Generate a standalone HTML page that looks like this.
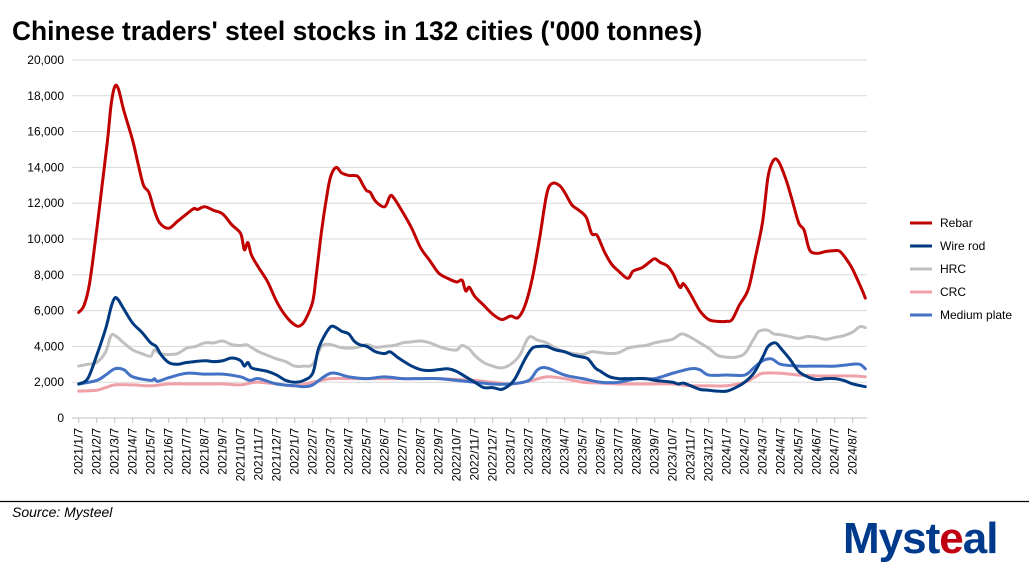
<!DOCTYPE html>
<html><head><meta charset="utf-8"><style>
body{margin:0;background:#fff;width:1029px;height:572px;overflow:hidden;font-family:"Liberation Sans",Arial,sans-serif}
</style></head><body>
<svg id="s" width="1029" height="572" xmlns="http://www.w3.org/2000/svg" font-family="Liberation Sans, Arial, sans-serif">
<text x="12" y="40" font-size="26.4" font-weight="bold" fill="#000">Chinese traders' steel stocks in 132 cities ('000 tonnes)</text>
<g id="grid"></g>
<g id="series" fill="none" stroke-width="3" stroke-linejoin="round" stroke-linecap="round"></g>
<g font-size="12" fill="#000">
<line x1="910" y1="223" x2="932" y2="223" stroke="#C00000" stroke-width="3"/><text x="940" y="227">Rebar</text>
<line x1="910" y1="246" x2="932" y2="246" stroke="#003A80" stroke-width="3"/><text x="940" y="250">Wire rod</text>
<line x1="910" y1="269" x2="932" y2="269" stroke="#C0C0C0" stroke-width="3"/><text x="940" y="273">HRC</text>
<line x1="910" y1="292" x2="932" y2="292" stroke="#F0A0A8" stroke-width="3"/><text x="940" y="296">CRC</text>
<line x1="910" y1="315" x2="932" y2="315" stroke="#4472C4" stroke-width="3"/><text x="940" y="319">Medium plate</text>
</g>
<line x1="0" y1="501.5" x2="1029" y2="501.5" stroke="#000" stroke-width="1.2"/>
<text x="12" y="517" font-size="14" font-style="italic" fill="#000">Source: Mysteel</text>
<text x="843" y="553" font-size="44" font-weight="bold" fill="#003A8C" letter-spacing="-1">Myst<tspan fill="#C00010">e</tspan>al</text>
</svg>
<script>
var X0=78.7,DX=18,Y0=418,K=17.9;
function px(m){return X0+m*DX} function py(v){return Y0-v*K}
var ns="http://www.w3.org/2000/svg",g=document.getElementById('grid');
function el(t,a,p,txt){var e=document.createElementNS(ns,t);for(var k in a)e.setAttribute(k,a[k]);if(txt)e.textContent=txt;p.appendChild(e);return e}
for(var v=0;v<=20;v+=2){var y=py(v);
 el('line',{x1:72,x2:867,y1:y,y2:y,stroke:v?'#d9d9d9':'#bfbfbf','stroke-width':1},g);
 el('text',{x:64,y:y+4,'text-anchor':'end','font-size':12,fill:'#000'},g,v?(v===20?'20,000':v+',000'):'0');}
var months=[];for(var yr=2021;yr<=2024;yr++)for(var mo=1;mo<=12;mo++){if(yr==2024&&mo>8)break;months.push(yr+'/'+mo+'/7')}
months.forEach(function(l,i){var x=px(i);el('line',{x1:x,x2:x,y1:418,y2:423,stroke:'#bfbfbf'},g);
 el('text',{transform:'translate('+(x+4)+',428) rotate(-90)','text-anchor':'end','font-size':12,fill:'#000'},g,l)});
function parse(s){var a=s.trim().split(/[\s,]+/),r=[];a.forEach(function(p){var q=p.split(':');r.push([+q[0],+q[1]])});return r}
function path(pts){var P=pts.map(function(p){return[px(p[0]),py(p[1])]});var d='M'+P[0][0]+','+P[0][1];
 for(var i=0;i<P.length-1;i++){var p0=P[i-1]||P[i],p1=P[i],p2=P[i+1],p3=P[i+2]||p2;
 d+=' C'+(p1[0]+(p2[0]-p0[0])/6)+','+(p1[1]+(p2[1]-p0[1])/6)+' '+(p2[0]-(p3[0]-p1[0])/6)+','+(p2[1]-(p3[1]-p1[1])/6)+' '+p2[0]+','+p2[1]}return d}
var S=[
['#F0A0A8','0:1.5 1:1.55 1.5:1.7 2:1.85 3:1.85 4:1.8 5:1.9 6:1.9 7:1.9 8:1.9 9:1.85 9.5:1.95 10:2.0 11:1.9 12:1.8 13:2.0 14:2.2 15:2.2 16:2.2 17:2.2 18:2.2 19:2.2 20:2.2 21:2.15 22:2.1 23:2.0 24:1.9 25:2.05 26:2.3 27:2.2 28:2.0 29:1.95 30:1.9 31:1.9 32:1.9 33:1.9 34:1.8 35:1.8 36:1.8 37:2.0 37.6:2.3 38:2.5 39:2.5 40:2.4 41:2.35 42:2.35 43:2.35 43.7:2.3'],
['#C0C0C0','0:2.9 0.5:3.0 1:3.1 1.5:3.7 1.8:4.6 2.1:4.55 2.5:4.2 3:3.8 3.5:3.6 4:3.45 4.2:3.8 4.5:3.6 5:3.55 5.5:3.6 6:3.9 6.5:4.0 7:4.2 7.5:4.2 8:4.3 8.5:4.1 9:4.05 9.3:4.1 9.5:4.0 10:3.7 10.5:3.5 11:3.3 11.5:3.15 12:2.9 12.5:2.9 13:3.0 13.5:4.0 14:4.1 14.5:3.95 15:3.9 15.5:3.95 16:4.1 16.5:3.95 17:4.0 17.5:4.05 18:4.2 18.5:4.25 19:4.3 19.5:4.2 20:4.0 20.5:3.85 21:3.8 21.3:4.05 21.7:3.85 22:3.5 22.5:3.1 23:2.9 23.5:2.8 24:3.0 24.5:3.5 25:4.5 25.5:4.35 26:4.2 26.5:3.9 27:3.7 27.5:3.6 28:3.55 28.5:3.7 29:3.65 29.5:3.6 30:3.65 30.5:3.9 31:4.0 31.5:4.05 32:4.2 32.5:4.3 33:4.4 33.5:4.7 34:4.5 34.5:4.2 35:3.9 35.5:3.5 36:3.4 36.5:3.4 37:3.6 37.5:4.4 37.8:4.85 38.3:4.9 38.6:4.7 39:4.65 39.5:4.55 40:4.45 40.5:4.55 41:4.5 41.5:4.4 42:4.5 42.5:4.6 43:4.8 43.4:5.1 43.7:5.05'],
['#4472C4','0:1.9 1:2.1 1.5:2.4 2:2.75 2.5:2.7 3:2.3 4:2.1 4.2:2.2 4.4:2.05 5:2.25 6:2.5 7:2.45 8:2.45 9:2.3 9.5:2.1 10:2.2 11:1.9 12:1.8 12.5:1.75 13:1.85 14:2.5 15:2.3 16:2.2 17:2.3 18:2.2 19:2.2 20:2.2 21:2.1 22:2.0 23:1.9 24:1.9 25:2.1 25.5:2.7 26:2.8 27:2.4 28:2.2 29:2.0 30:2.0 31:2.2 32:2.2 33:2.5 34:2.75 34.5:2.7 35:2.4 36:2.4 37:2.4 37.5:2.8 38:3.2 38.5:3.3 39:3.0 40:2.9 41:2.9 42:2.9 43:3.0 43.4:3.0 43.7:2.75'],
['#003A80','0:1.9 0.5:2.2 1:3.5 1.5:5 1.8:6.2 2:6.7 2.2:6.6 2.5:6.1 3:5.3 3.5:4.8 4:4.2 4.3:4.0 4.6:3.5 5:3.1 5.5:3.0 6:3.1 7:3.2 7.5:3.15 8:3.2 8.5:3.35 9:3.2 9.2:2.9 9.4:3.1 9.6:2.8 10:2.7 10.5:2.6 11:2.4 11.5:2.1 12:2.0 12.5:2.1 13:2.5 13.3:3.8 13.6:4.5 14:5.1 14.3:5.05 14.6:4.85 15:4.7 15.3:4.3 15.6:4.1 16:4.0 16.5:3.7 17:3.6 17.3:3.7 17.7:3.4 18:3.2 18.5:2.9 19:2.7 19.5:2.65 20:2.7 20.5:2.75 21:2.6 21.5:2.3 22:2.0 22.5:1.7 23:1.7 23.5:1.6 24:1.9 24.3:2.3 24.8:3.3 25.2:3.9 25.6:4.0 26:4.0 26.5:3.8 27:3.7 27.5:3.5 28:3.4 28.3:3.3 28.7:2.8 29:2.6 29.5:2.3 30:2.2 30.5:2.2 31:2.2 31.5:2.2 32:2.1 32.5:2.05 33:2.0 33.3:1.9 33.6:1.95 34:1.8 34.5:1.6 35:1.55 35.5:1.5 36:1.5 36.5:1.7 37:2.0 37.5:2.5 38:3.4 38.3:4.0 38.7:4.2 39:3.9 39.5:3.3 40:2.6 40.5:2.3 41:2.15 41.5:2.2 42:2.2 42.5:2.1 43:1.9 43.7:1.75'],
['#C00000','0:5.9 0.3:6.3 0.6:7.5 1:10.5 1.3:13 1.6:15.5 1.8:17.5 2:18.5 2.2:18.4 2.5:17.2 3:15.5 3.3:14.2 3.6:13 3.9:12.6 4.2:11.6 4.5:10.9 5:10.6 5.5:11 6:11.4 6.4:11.7 6.6:11.65 7:11.8 7.5:11.6 8:11.4 8.5:10.8 9:10.3 9.2:9.4 9.4:9.8 9.6:9.1 10:8.4 10.5:7.6 11:6.5 11.5:5.7 12:5.2 12.3:5.15 12.6:5.5 13:6.5 13.2:8 13.5:10.5 13.8:12.5 14:13.5 14.3:14.0 14.6:13.7 15:13.55 15.5:13.5 15.8:13 16:12.7 16.2:12.6 16.5:12.1 17:11.8 17.3:12.4 17.5:12.3 18:11.5 18.5:10.6 19:9.5 19.5:8.8 20:8.1 20.5:7.8 21:7.6 21.3:7.7 21.5:7.1 21.7:7.3 22:6.8 22.5:6.3 23:5.8 23.5:5.5 24:5.7 24.4:5.6 24.8:6.3 25.2:7.8 25.6:10 26:12.5 26.3:13.1 26.7:13 27:12.6 27.4:11.9 27.8:11.6 28.2:11.2 28.5:10.3 28.8:10.2 29.2:9.3 29.6:8.6 30:8.2 30.5:7.8 30.8:8.2 31.3:8.4 31.7:8.7 32:8.9 32.3:8.7 32.7:8.5 33:8.1 33.4:7.3 33.6:7.5 34:6.9 34.5:6.0 35:5.5 35.5:5.4 36:5.4 36.3:5.5 36.7:6.3 37.2:7.2 37.6:9 38:11 38.3:13.5 38.6:14.4 38.9:14.3 39.3:13.3 39.6:12.3 40:10.9 40.3:10.5 40.6:9.4 41:9.2 41.5:9.3 42:9.35 42.3:9.3 42.7:8.8 43:8.3 43.5:7.2 43.7:6.7']];
var sg=document.getElementById('series');
S.forEach(function(s){el('path',{d:path(parse(s[1])),stroke:s[0]},sg)});
</script>
</body></html>
